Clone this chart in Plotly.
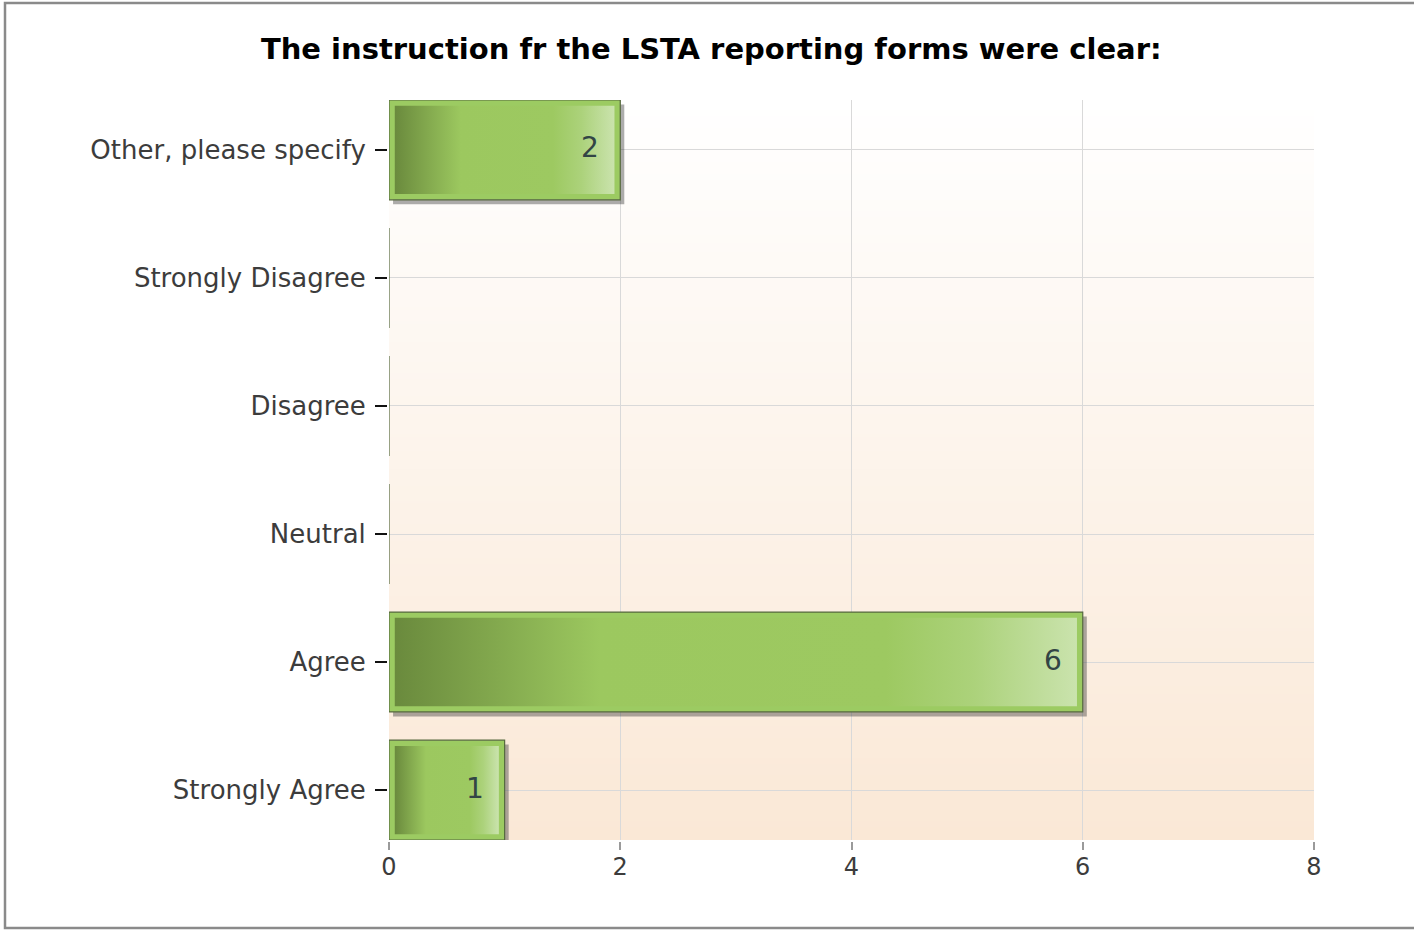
import base64
import struct
import zlib

import plotly.graph_objects as go

categories = ["Strongly Agree", "Agree", "Neutral", "Disagree",
              "Strongly Disagree", "Other, please specify"]
counts = [1, 6, 0, 0, 0, 2]
x_ticks = [0, 2, 4, 6, 8]

title = "The instruction fr the LSTA reporting forms were clear:"

# styling
BAR_W = 0.78
INSET_X = 0.05    # light green border around the gradient, in x units
INSET_Y = 0.045
SHADOW_DX = 0.035
SHADOW_DY = 0.035
bar_grad = [[0, "#6a8a3d"], [0.3, "#9cc85f"], [0.72, "#9dc961"],
            [0.85, "#acd27b"], [1, "#cae3ad"]]

# plot area in pixels: x 389..1314, y 100..840
L, R, T, B = 389, 100, 100, 90
PW, PH = 1414 - L - R, 930 - T - B


def gradient_png(top, bottom, h=256):
    """1px wide vertical gradient png, as a data uri"""
    rows = []
    for i in range(h):
        t = i / (h - 1)
        px = bytes(round(top[k] + (bottom[k] - top[k]) * t) for k in range(3))
        rows.append(b"\x00" + px)

    def chunk(tag, data):
        return (struct.pack(">I", len(data)) + tag + data
                + struct.pack(">I", zlib.crc32(tag + data) & 0xffffffff))

    png = (b"\x89PNG\r\n\x1a\n"
           + chunk(b"IHDR", struct.pack(">IIBBBBB", 1, h, 8, 2, 0, 0, 0))
           + chunk(b"IDAT", zlib.compress(b"".join(rows)))
           + chunk(b"IEND", b""))
    return "data:image/png;base64," + base64.b64encode(png).decode()


pos = list(range(len(categories)))
fig = go.Figure()

# drop shadow
fig.add_trace(go.Bar(
    y=pos, x=counts, base=SHADOW_DX, orientation="h", width=BAR_W,
    offset=-BAR_W / 2 - SHADOW_DY,
    marker={"color": "rgba(50,50,50,0.4)", "line": {"width": 0}},
    hoverinfo="skip", zorder=0,
))

# bar body (light green frame)
fig.add_trace(go.Bar(
    y=pos, x=counts, orientation="h", width=BAR_W,
    marker={"color": "#9ccb62", "line": {"color": "#56693f", "width": 1.2}},
    zorder=1,
))

# gradient inside each bar
for p, v in zip(pos, counts):
    if v == 0:
        continue
    x0, x1 = INSET_X, v - INSET_X
    y0, y1 = p - BAR_W / 2 + INSET_Y, p + BAR_W / 2 - INSET_Y
    fig.add_trace(go.Scatter(
        x=[x0, x1, x1, x0, x0], y=[y0, y0, y1, y1, y0],
        mode="lines", line={"width": 0}, fill="toself",
        fillgradient={"type": "horizontal", "colorscale": bar_grad},
        hoverinfo="skip", zorder=2,
    ))

# value labels
for p, v in zip(pos, counts):
    if v == 0:
        continue
    fig.add_annotation(x=v, y=p, text=str(v), showarrow=False,
                       xanchor="right", xshift=-19, yshift=2,
                       font={"size": 28, "color": "#324545",
                             "family": "DejaVu Sans"})

fig.add_layout_image(
    source=gradient_png((255, 255, 255), (250, 232, 214)),
    xref="paper", yref="paper", x=0, y=1, sizex=1, sizey=1,
    xanchor="left", yanchor="top", sizing="stretch", layer="below",
)

# outer frame of the picture (right edge is cut off)
fig.add_shape(type="rect", xref="paper", yref="paper",
              x0=(5 - L) / PW, x1=(1425 - L) / PW,
              y0=(930 - B - 928) / PH, y1=(930 - B - 3) / PH,
              line={"color": "#8a8a8a", "width": 2.5})

fig.update_layout(
    width=1414, height=930,
    margin={"l": L, "r": R, "t": T, "b": B},
    paper_bgcolor="white",
    plot_bgcolor="rgba(0,0,0,0)",
    barmode="overlay",
    showlegend=False,
    title={"text": "<b>" + title + "</b>", "x": 0.503, "xanchor": "center",
           "y": 0.948, "yanchor": "middle",
           "font": {"size": 29, "color": "#000000", "family": "DejaVu Sans"}},
    font={"family": "DejaVu Sans", "color": "#3c3c3c"},
)

fig.update_xaxes(
    range=[0, 8], tickvals=x_ticks, showgrid=True, gridcolor="#d9d9d9",
    gridwidth=1, zeroline=False, showline=True, linecolor="#111111",
    linewidth=2, ticks="outside", ticklen=8, tickcolor="#9a9a9a",
    tickwidth=1.5, ticklabelstandoff=-4,
    tickfont={"size": 24, "color": "#3c3c3c"},
)
fig.update_yaxes(
    range=[-BAR_W / 2, len(categories) - 1 + BAR_W / 2],
    tickvals=pos, ticktext=categories, showgrid=True, gridcolor="#d9d9d9",
    gridwidth=1, zeroline=False, showline=True, linecolor="#111111",
    linewidth=2, ticks="outside", ticklen=12, tickcolor="#111111",
    tickwidth=1.5, ticklabelstandoff=4,
    tickfont={"size": 26, "color": "#3c3c3c"},
)

fig.write_html("out.html", config={"displayModeBar": False},
               post_script="document.body.style.margin='0';")
